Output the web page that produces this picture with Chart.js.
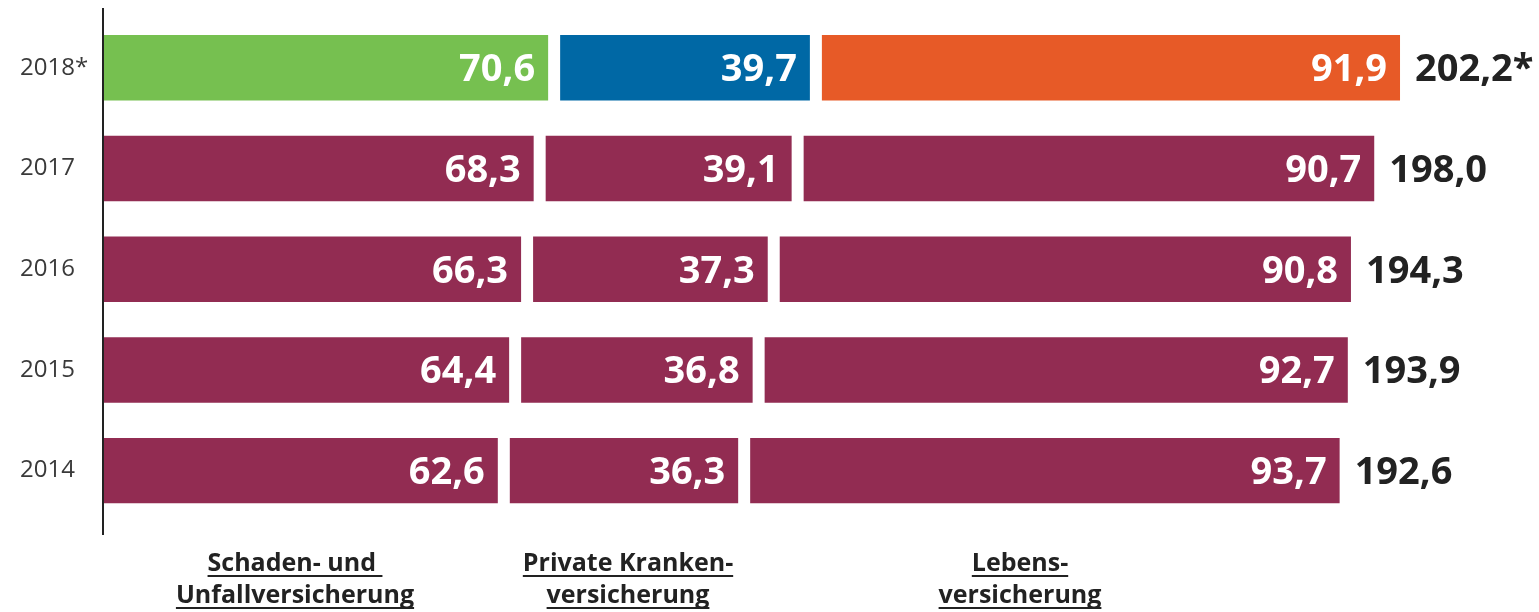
<!DOCTYPE html>
<html>
<head>
<meta charset="utf-8">
<script src="https://cdn.jsdelivr.net/npm/chart.js@4"></script>
<style>
  html, body { margin: 0; padding: 0; background: #fff; }
  #wrap { width: 1539px; height: 612px; position: relative; }
</style>
</head>
<body>
<div id="wrap"><canvas id="beitragChart"></canvas></div>
<script>
const years = ['2018*', '2017', '2016', '2015', '2014'];
const schaden = [70.6, 68.3, 66.3, 64.4, 62.6];
const kranken = [39.7, 39.1, 37.3, 36.8, 36.3];
const leben = [91.9, 90.7, 90.8, 92.7, 93.7];
const totals = ['202,2*', '198,0', '194,3', '193,9', '192,6'];
const sparten = [['Schaden- und ', 'Unfallversicherung'], ['Private Kranken-', 'versicherung'], ['Lebens-', 'versicherung']];

const maroon = '#922C52';
const GAP = 12; // white gap between the segments, px

const fmt = v => v.toFixed(1).replace('.', ',');
const colorsFor = first => years.map((y, i) => i === 0 ? first : maroon);

// shifts each segment to the right so the segments get gaps
const gapPlugin = {
  id: 'gapPlugin',
  beforeDatasetDraw(chart, args) {
    chart.ctx.save();
    chart.ctx.translate(args.index * GAP, 0);
  },
  afterDatasetDraw(chart) {
    chart.ctx.restore();
  }
};

const labelPlugin = {
  id: 'labelPlugin',
  afterDatasetsDraw(chart) {
    const ctx = chart.ctx;
    const n = chart.data.datasets.length;
    ctx.save();
    ctx.textBaseline = 'alphabetic';
    ctx.font = 'bold 38px "Open Sans"';
    chart.data.datasets.forEach((ds, i) => {
      const meta = chart.getDatasetMeta(i);
      meta.data.forEach((bar, j) => {
        ctx.fillStyle = '#fff';
        ctx.textAlign = 'right';
        ctx.fillText(fmt(ds.data[j]), bar.x + i * GAP - 13, bar.y + 13.5);
        if (i === n - 1) {
          ctx.fillStyle = '#222';
          ctx.textAlign = 'left';
          ctx.fillText(totals[j], bar.x + i * GAP + 15, bar.y + 13.5);
        }
      });
    });

    // vertical axis line
    ctx.strokeStyle = '#222';
    ctx.lineWidth = 2;
    ctx.beginPath();
    ctx.moveTo(chart.chartArea.left - 1, 8);
    ctx.lineTo(chart.chartArea.left - 1, 535);
    ctx.stroke();

    // segment captions below the chart
    const centers = [295, 628, 1020];
    ctx.font = 'bold 25px "Open Sans"';
    ctx.fillStyle = '#222';
    ctx.textAlign = 'left';
    sparten.forEach((lines, k) => {
      lines.forEach((t, l) => {
        const w = ctx.measureText(t).width;
        const x = centers[k] - w / 2;
        const y = 571 + l * 32;
        ctx.fillText(t, x, y);
        ctx.fillRect(x, y + 4, w, 2);
      });
    });
    ctx.restore();
  }
};

new Chart(document.getElementById('beitragChart').getContext('2d'), {
  type: 'bar',
  data: {
    labels: years,
    datasets: [
      { label: 'Schaden- und Unfallversicherung', data: schaden, backgroundColor: colorsFor('#76C050') },
      { label: 'Private Krankenversicherung', data: kranken, backgroundColor: colorsFor('#0068A5') },
      { label: 'Lebensversicherung', data: leben, backgroundColor: colorsFor('#E75A27') }
    ]
  },
  options: {
    indexAxis: 'y',
    responsive: true,
    maintainAspectRatio: false,
    animation: false,
    categoryPercentage: 1,
    barPercentage: 0.65,
    layout: { padding: { left: 20, right: 51, top: 13, bottom: 91 } },
    plugins: { legend: { display: false }, tooltip: { enabled: false } },
    scales: {
      x: { stacked: true, min: 0, max: 220, display: false },
      y: {
        stacked: true,
        grid: { display: false },
        border: { display: false },
        afterFit(scale) { scale.width = 84; },
        ticks: {
          crossAlign: 'far',
          color: '#3a3a3a',
          font: { family: '"Open Sans"', size: 24 }
        }
      }
    }
  },
  plugins: [gapPlugin, labelPlugin]
});
</script>
</body>
</html>
